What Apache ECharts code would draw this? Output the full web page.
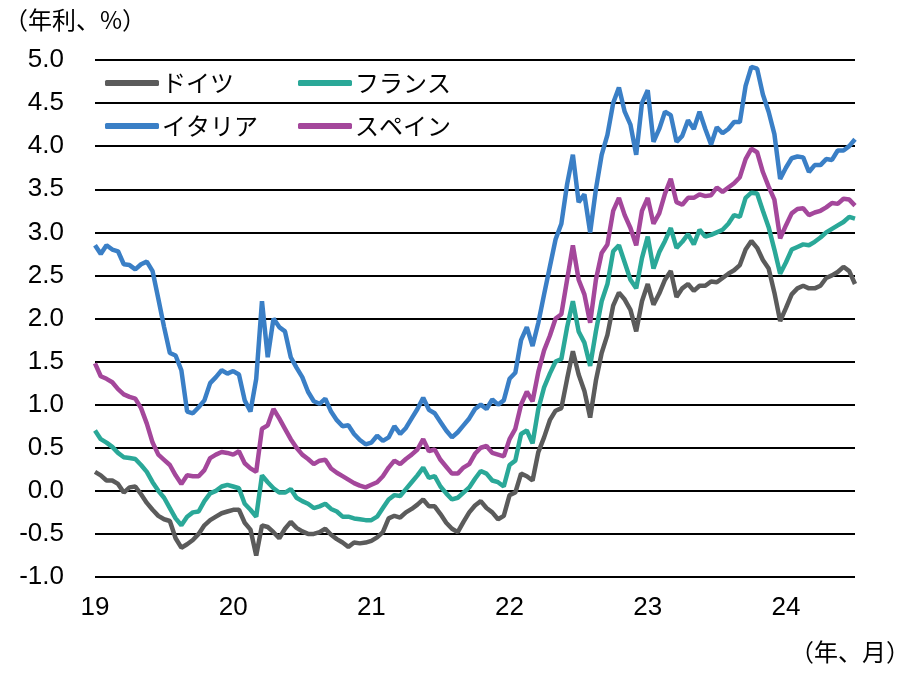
<!DOCTYPE html>
<html>
<head>
<meta charset="utf-8">
<script src="https://cdn.jsdelivr.net/npm/echarts@6/dist/echarts.min.js"></script>
<style>
    html, body { margin: 0; padding: 0; background: #fff; }
    #chart { width: 914px; height: 679px; }
</style>
</head>
<body>
<div id="chart"></div>
<script>
// half-month grid, 2019/01 .. 2024/07
const dates = [];
for (let y = 2019; y <= 2024; y++) {
    for (let m = 1; m <= 12; m++) {
        if (y === 2024 && m > 7) break;
        const mm = String(m).padStart(2, '0');
        dates.push(y + '-' + mm + '-01');
        if (!(y === 2024 && m === 7)) dates.push(y + '-' + mm + '-16');
    }
}

const names = ['ドイツ', 'フランス', 'イタリア', 'スペイン'];
const colors = ['#5b5b5b', '#2aa898', '#3a7fc6', '#a4479b'];
const yTicks = [-1.0, -0.5, 0.0, 0.5, 1.0, 1.5, 2.0, 2.5, 3.0, 3.5, 4.0, 4.5, 5.0];

const germany = [
    0.22, 0.18, 0.12, 0.12, 0.08, -0.02, 0.04, 0.05, -0.04, -0.14, -0.22, -0.29, -0.33, -0.35, -0.55, -0.66, -0.62, -0.57, -0.5, -0.4, -0.34, -0.3, -0.26, -0.24,
    -0.22, -0.22, -0.37, -0.45, -0.75, -0.4, -0.42, -0.48, -0.55, -0.44, -0.36, -0.43, -0.47, -0.5, -0.5, -0.48, -0.44, -0.51, -0.56, -0.6, -0.65, -0.6, -0.61, -0.6,
    -0.58, -0.54, -0.48, -0.32, -0.29, -0.31, -0.25, -0.21, -0.16, -0.1, -0.18, -0.18, -0.27, -0.37, -0.44, -0.48, -0.36, -0.25, -0.17, -0.12, -0.2, -0.25, -0.33, -0.29,
    -0.05, -0.02, 0.2, 0.17, 0.12, 0.45, 0.62, 0.82, 0.93, 0.96, 1.3, 1.62, 1.35, 1.16, 0.85, 1.28, 1.6, 1.81, 2.15, 2.3, 2.22, 2.1, 1.85, 2.2,
    2.4, 2.16, 2.29, 2.45, 2.55, 2.25, 2.35, 2.4, 2.32, 2.38, 2.38, 2.43, 2.42, 2.47, 2.52, 2.56, 2.62, 2.8, 2.9, 2.82, 2.68, 2.58, 2.3, 1.97,
    2.12, 2.28, 2.35, 2.38, 2.35, 2.35, 2.38, 2.47, 2.5, 2.54, 2.6, 2.55, 2.4
];
const france = [
    0.7, 0.6, 0.56, 0.51, 0.44, 0.39, 0.38, 0.37, 0.3, 0.22, 0.1, 0.0, -0.08, -0.2, -0.32, -0.4, -0.3, -0.25, -0.24, -0.12, -0.03, 0.0, 0.05, 0.07,
    0.05, 0.03, -0.15, -0.22, -0.3, 0.18, 0.1, 0.03, -0.02, -0.02, 0.02, -0.08, -0.12, -0.15, -0.2, -0.18, -0.15, -0.21, -0.24, -0.3, -0.3, -0.32, -0.33, -0.34,
    -0.34, -0.3, -0.2, -0.1, -0.05, -0.06, 0.02, 0.1, 0.18, 0.27, 0.15, 0.17, 0.05, -0.03, -0.1, -0.08, -0.02, 0.04, 0.14, 0.23, 0.2, 0.12, 0.1, 0.05,
    0.3, 0.35, 0.66, 0.7, 0.55, 0.95, 1.2, 1.36, 1.5, 1.53, 1.9, 2.2, 1.85, 1.72, 1.45, 1.85, 2.2, 2.4, 2.78, 2.85, 2.65, 2.45, 2.35, 2.7,
    2.95, 2.58, 2.77, 2.9, 3.05, 2.82, 2.89, 2.98, 2.86, 3.03, 2.95, 2.97, 3.0, 3.03, 3.1, 3.2, 3.18, 3.4, 3.46, 3.45, 3.25, 3.06, 2.8, 2.52,
    2.65, 2.8, 2.83, 2.86, 2.85, 2.89, 2.94, 3.0, 3.04, 3.08, 3.12, 3.18, 3.16
];
const italy = [
    2.85, 2.75, 2.85, 2.8, 2.78, 2.63, 2.62, 2.57, 2.63, 2.66, 2.55, 2.23, 1.9, 1.6, 1.57, 1.4, 0.92, 0.9, 0.97, 1.05, 1.25, 1.32, 1.4, 1.36,
    1.39, 1.35, 1.05, 0.92, 1.3, 2.2, 1.55, 2.0, 1.9, 1.85, 1.55, 1.43, 1.32, 1.15, 1.04, 1.01, 1.07, 0.92, 0.82, 0.75, 0.76, 0.66, 0.59, 0.54,
    0.56, 0.64, 0.58, 0.62, 0.75, 0.66, 0.73, 0.84, 0.95, 1.08, 0.94, 0.9, 0.8, 0.7, 0.62, 0.68, 0.76, 0.84, 0.95, 1.0, 0.95, 1.06, 1.0, 1.05,
    1.3, 1.37, 1.75, 1.9, 1.68, 1.95, 2.28, 2.6, 2.92, 3.1, 3.56, 3.9, 3.35, 3.44, 3.0, 3.5, 3.9, 4.13, 4.5, 4.68, 4.4, 4.25, 3.9, 4.5,
    4.65, 4.05, 4.2, 4.4, 4.36, 4.05, 4.12, 4.3, 4.2, 4.4, 4.2, 4.02, 4.22, 4.15, 4.2, 4.28, 4.28, 4.7, 4.92, 4.9, 4.6, 4.4, 4.14, 3.62,
    3.75, 3.86, 3.88, 3.87, 3.7, 3.78, 3.78, 3.85, 3.84, 3.95, 3.95, 4.0, 4.08
];
const spain = [
    1.48, 1.33, 1.3, 1.26, 1.18, 1.12, 1.09, 1.07, 0.96, 0.78, 0.56, 0.42, 0.36, 0.3, 0.18, 0.08, 0.18, 0.17, 0.17, 0.24, 0.38, 0.42, 0.45, 0.44,
    0.42, 0.46, 0.32, 0.26, 0.22, 0.72, 0.76, 0.95, 0.84, 0.72, 0.6, 0.5, 0.42, 0.37, 0.31, 0.35, 0.36, 0.26, 0.21, 0.17, 0.13, 0.09, 0.06, 0.04,
    0.07, 0.1, 0.17, 0.27, 0.35, 0.31, 0.37, 0.42, 0.48, 0.6, 0.46, 0.48, 0.36, 0.28, 0.2, 0.2, 0.27, 0.31, 0.43, 0.5, 0.52, 0.44, 0.42, 0.4,
    0.6, 0.72, 1.0, 1.15, 1.04, 1.38, 1.63, 1.8, 2.0, 2.05, 2.45, 2.85, 2.45, 2.28, 1.95, 2.45, 2.76, 2.86, 3.25, 3.4, 3.2, 3.05, 2.85, 3.25,
    3.4, 3.1, 3.22, 3.45, 3.62, 3.35, 3.32, 3.4, 3.4, 3.44, 3.42, 3.43, 3.52, 3.47, 3.52, 3.57, 3.64, 3.85, 3.97, 3.93, 3.7, 3.53, 3.38, 2.93,
    3.08, 3.22, 3.27, 3.28, 3.2, 3.23, 3.25, 3.29, 3.34, 3.33, 3.39, 3.38, 3.31
];
const seriesData = [germany, france, italy, spain];

const chart = echarts.init(document.getElementById('chart'));
const numFont = 'Liberation Sans, Arial, sans-serif';
const jpFont = 'Noto Sans CJK JP, sans-serif';

// one legend per item so they sit in a 2x2 block like the original
const legendPos = [[100, 66], [293, 66], [100, 109], [293, 109]];
const legends = names.map((n, i) => ({
    data: [n],
    left: legendPos[i][0],
    top: legendPos[i][1],
    icon: 'roundRect',
    itemWidth: 54,
    itemHeight: 6,
    itemGap: 0,
    selectedMode: false,
    textStyle: { fontFamily: jpFont, fontSize: 24, color: '#000', padding: [0, 0, 0, -2] }
}));

chart.setOption({
    animation: false,
    color: colors,
    grid: { left: 95, right: 59, top: 60, bottom: 102 },
    legend: legends,
    graphic: [
        { type: 'text', left: 4, top: 8, style: { text: '（年利、%）', font: '24px ' + jpFont, fill: '#000' } },
        { type: 'text', right: 4, top: 640, style: { text: '（年、月）', font: '24px ' + jpFont, fill: '#000' } }
    ],
    xAxis: {
        type: 'category',
        data: dates,
        boundaryGap: false,
        axisLine: { show: false },
        axisTick: { show: false },
        splitLine: { show: false },
        axisLabel: {
            interval: (idx) => idx % 24 === 0,
            formatter: (v) => v.slice(2, 4),
            margin: 18,
            fontFamily: numFont,
            fontSize: 26,
            color: '#000'
        }
    },
    yAxis: {
        type: 'value',
        min: yTicks[0],
        max: yTicks[yTicks.length - 1],
        interval: 0.5,
        axisLine: { show: false },
        axisTick: { show: false },
        splitLine: { lineStyle: { color: '#000', width: 2 } },
        axisLabel: {
            formatter: (v) => v.toFixed(1),
            margin: 31,
            fontFamily: numFont,
            fontSize: 26,
            color: '#000'
        }
    },
    series: names.map((n, i) => ({
        name: n,
        type: 'line',
        data: seriesData[i],
        showSymbol: false,
        lineStyle: { width: 4.5, color: colors[i] },
        itemStyle: { color: colors[i] }
    }))
});
</script>
</body>
</html>
